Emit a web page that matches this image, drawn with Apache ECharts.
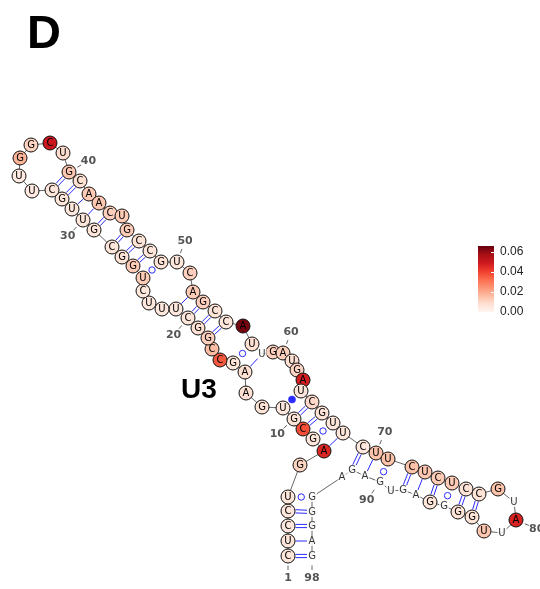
<!DOCTYPE html>
<html><head><meta charset="utf-8">
<script src="https://cdn.jsdelivr.net/npm/echarts@6/dist/echarts.min.js"></script>
<style>html,body{margin:0;padding:0;background:#fff}#c{width:540px;height:589px}</style>
</head><body><div id="c"></div>
<script>
// ---- data ----
const sequence = "CUCCUGAGCGUGAAGCCGGCUUUCUGGCGUUGCUUGGCUGCAACUGCCGUCAGCCAUUGAUGAUCGUUCUUCUCUCCGUAUUGGGGAGUGAGAGGGAG";
const reactivity = [
  0.006,0.006,0.005,0.006,0.006,0.011,0.046,0.006,0.038,0.007,
  0.005,0.007,0.008,0.008,0.006,0.036,0.016,0.012,0.008,0.006,
  0.005,0.005,0.005,0.005,0.013,0.013,0.007,0.006,0.006,0.006,
  0.005,0.006,0.006,0.004,0.004,0.018,0.011,0.050,0.009,0.014,
  0.008,0.013,0.014,0.012,0.013,0.013,0.007,0.006,0.007,0.006,
  0.012,0.013,0.012,0.007,0.006,0.064,0.008,null,0.012,0.012,
  0.008,0.011,0.048,0.006,0.010,0.007,0.006,0.006,0.005,0.015,
  0.015,0.015,0.014,0.013,0.013,0.007,0.007,0.015,null,0.047,
  null,0.014,0.007,0.007,null,0.006,null,null,null,null,
  null,null,null,null,null,null,null,null
];
const layoutX = [
  288,288,288,288,288,300,324,313,303,294,
  283,262,246,245,233,220,212,208,198,188,
  176,162,149,143,143,133,122,112,94,83,
  72,62,52,32,19,20,31,50,63,69,
  80,89,99,110,122,127,139,150,161,177,
  190,193,203,215,226,243,252,262,273,283,
  292,297,303,301,312,322,333,343,363,376,
  388,412,425,438,452,466,479,498,514,516,
  502,484,472,458,444,430,416,403,391,380,
  365,352,342,312,312,312,312,312
];
const layoutY = [
  556,541,526,511,497,465,451,439,429,419,
  408,407,393,372,363,360,349,338,328,318,
  309,309,303,291,278,266,257,247,230,220,
  209,199,190,191,176,158,145,143,153,172,
  181,194,203,213,216,230,241,251,262,262,
  273,292,302,311,322,326,344,354,352,353,
  361,370,380,391,402,413,423,433,447,453,
  459,467,472,478,483,489,494,489,502,520,
  533,531,517,512,506,502,495,490,491,482,
  476,470,477,497,512,526,541,556
];
const basePairs = [
  [1,98],[2,97],[3,96],[4,95],[5,94],
  [7,68],[8,67],[9,66],[10,65],[11,64],
  [14,58],[15,57],
  [18,55],[19,54],[20,53],[21,52],
  [25,49],[26,48],[27,47],[28,46],
  [29,44],[30,43],[31,42],[32,41],[33,40],
  [69,92],[70,91],[71,90],
  [72,88],[73,87],[74,86],[75,85],[76,84],[77,83]
];
const numberedPositions = [1,10,20,30,40,50,60,70,80,90,98];
const colorbarTicks = [0,0.02,0.04,0.06];
const colorMax = 0.066;

// ---- styles (not data) ----
const numberLabelAngles = {1:90,10:138,20:130,30:133,40:-30,50:-69,60:-69,70:-67,80:23,90:126,98:90};
const reds = ['#fff5f0','#fee0d2','#fcbba1','#fc9272','#fb6a4a','#ef3b2c','#cb181d','#a50f15','#67000d'];
const pairColor = '#2b2bff';

const circleData = [], textData = [], backbone = [];
for (let k = 0; k < sequence.length; k++) {
  backbone.push([layoutX[k], layoutY[k]]);
  if (reactivity[k] == null) textData.push([layoutX[k], layoutY[k], sequence[k]]);
  else circleData.push([layoutX[k], layoutY[k], reactivity[k], sequence[k]]);
}

function renderPair(params, api) {
  const i = api.value(0) - 1, j = api.value(1) - 1;
  const a = api.coord([layoutX[i], layoutY[i]]);
  const b = api.coord([layoutX[j], layoutY[j]]);
  const dx = b[0]-a[0], dy = b[1]-a[1], L = Math.hypot(dx,dy), ux = dx/L, uy = dy/L;
  const ra = reactivity[i]==null ? 5 : 7.5, rb = reactivity[j]==null ? 5 : 7.5;
  const p0 = [a[0]+ux*ra, a[1]+uy*ra], p1 = [b[0]-ux*rb, b[1]-uy*rb];
  const mid = [(p0[0]+p1[0])/2, (p0[1]+p1[1])/2];
  const pr = sequence[i] + sequence[j];
  const children = [];
  const ls = {stroke: pairColor, lineWidth: 1};
  if (pr === 'GC' || pr === 'CG') {
    const o = 1.6, nx = -uy*o, ny = ux*o;
    children.push({type:'line', shape:{x1:p0[0]+nx,y1:p0[1]+ny,x2:p1[0]+nx,y2:p1[1]+ny}, style:ls});
    children.push({type:'line', shape:{x1:p0[0]-nx,y1:p0[1]-ny,x2:p1[0]-nx,y2:p1[1]-ny}, style:ls});
  } else if (pr === 'AU' || pr === 'UA') {
    children.push({type:'line', shape:{x1:p0[0],y1:p0[1],x2:p1[0],y2:p1[1]}, style:ls});
  } else if (pr === 'GU' || pr === 'UG') {
    children.push({type:'circle', shape:{cx:mid[0],cy:mid[1],r:3.2}, style:{fill:'#fff', stroke:pairColor, lineWidth:1}});
  } else {
    children.push({type:'circle', shape:{cx:mid[0],cy:mid[1],r:3.6}, style:{fill:pairColor, stroke:pairColor, lineWidth:0.5}});
  }
  return {type:'group', children};
}

function renderNumber(params, api) {
  const n = api.value(0), k = n - 1;
  const c = api.coord([layoutX[k], layoutY[k]]);
  const ang = numberLabelAngles[n] * Math.PI / 180, ux = Math.cos(ang), uy = Math.sin(ang);
  return {type:'group', children:[
    {type:'line', shape:{x1:c[0]+ux*9.5, y1:c[1]+uy*9.5, x2:c[0]+ux*14, y2:c[1]+uy*14}, style:{stroke:'#666', lineWidth:1}},
    {type:'text', x:c[0]+ux*22.5, y:c[1]+uy*22.5, style:{text:String(n), fill:'#555', font:'bold 11px "DejaVu Sans"', align:'center', verticalAlign:'middle'}}
  ]};
}

const chart = echarts.init(document.getElementById('c'), null, {renderer:'canvas'});
chart.setOption({
  animation: false,
  backgroundColor: '#fff',
  title: [
    {text:'D', left:27, top:12, padding:0, textStyle:{fontSize:47, fontWeight:'bold', fontFamily:'Liberation Sans', color:'#000'}},
    {text:'U3', left:181, top:376, padding:0, textStyle:{fontSize:28, fontWeight:'bold', fontFamily:'Liberation Sans', color:'#000'}}
  ],
  grid: [
    {left:0, top:0, width:540, height:589},
    {left:478, top:246, width:16, height:66}
  ],
  xAxis: [
    {type:'value', min:0, max:540, show:false, gridIndex:0},
    {type:'category', data:['scale'], show:false, gridIndex:1}
  ],
  yAxis: [
    {type:'value', min:0, max:589, inverse:true, show:false, gridIndex:0},
    {type:'value', gridIndex:1, min:0, max:colorMax, interval:0.02, position:'right', z:10,
     axisLine:{show:false}, splitLine:{show:false},
     axisTick:{show:true, inside:true, length:3, lineStyle:{color:'#fff', width:1}},
     axisLabel:{showMaxLabel:false, margin:6, fontSize:12, color:'#222', fontFamily:'Liberation Sans',
       formatter: v => colorbarTicks.some(t => Math.abs(t-v) < 1e-9) ? v.toFixed(2) : ''}}
  ],
  visualMap: {show:false, type:'continuous', min:0, max:colorMax, dimension:2, seriesIndex:2, inRange:{color:reds}},
  series: [
    {type:'line', data:backbone, symbol:'none', clip:false, z:1, silent:true,
     lineStyle:{color:'#666', width:1}},
    {type:'custom', data:basePairs, renderItem:renderPair, clip:false, z:2, silent:true,
     encode:{x:-1, y:-1}},
    {type:'scatter', data:circleData, symbol:'circle', symbolSize:14, z:3,
     itemStyle:{borderColor:'#111', borderWidth:1, opacity:1},
     label:{show:true, position:'inside', formatter:p => p.value[3], fontSize:10, color:'#000', fontFamily:'DejaVu Sans'}},
    {type:'scatter', data:textData, symbol:'circle', symbolSize:1, z:3,
     itemStyle:{color:'rgba(0,0,0,0)'},
     label:{show:true, position:'inside', formatter:p => p.value[2], fontSize:10, color:'#000', fontFamily:'DejaVu Sans',
       backgroundColor:'#fff', padding:[0,1]}},
    {type:'custom', data:numberedPositions.map(n => [n]), renderItem:renderNumber, clip:false, z:4, silent:true,
     encode:{x:-1, y:-1}},
    {type:'bar', xAxisIndex:1, yAxisIndex:1, data:[colorMax], barWidth:'100%', z:2, silent:true,
     itemStyle:{color:new echarts.graphic.LinearGradient(0,0,0,1, reds.slice().reverse().map((c,i,arr)=>({offset:i/(arr.length-1), color:c})))}}
  ]
});
</script>
</body></html>
